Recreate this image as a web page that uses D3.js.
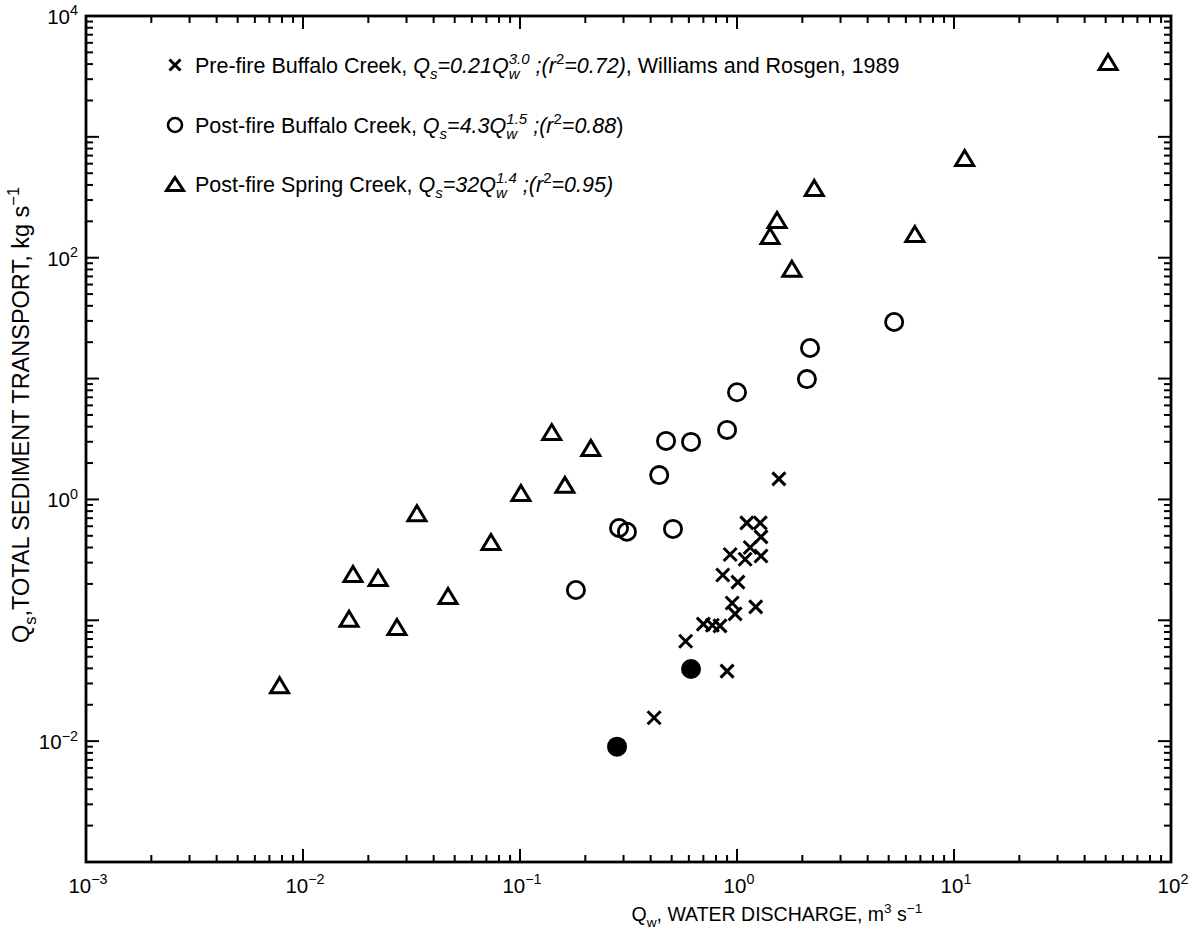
<!DOCTYPE html>
<html>
<head>
<meta charset="utf-8">
<script src="https://cdn.jsdelivr.net/npm/d3@7"></script>
<style>
  body { margin: 0; background: #fff; }
  text { font-family: "Liberation Sans", Arial, Helvetica, sans-serif; fill: #000; white-space: pre; }
</style>
</head>
<body>
<svg id="chart" width="1196" height="937"></svg>
<script>
// pre-fire Buffalo Creek (x)
var preFireQw = [1.56, 1.11, 1.28, 1.29, 1.15, 0.93, 1.09, 1.29, 0.86, 1.01, 0.95, 1.22, 0.98, 0.70, 0.77, 0.835, 0.58, 0.90, 0.415]
var preFireQs = [1.48, 0.64, 0.64, 0.49, 0.40, 0.35, 0.32, 0.34, 0.237, 0.207, 0.139, 0.129, 0.113, 0.093, 0.091, 0.090, 0.067, 0.038, 0.0156]

// post-fire Buffalo Creek (open circles)
var postBuffaloQw = [5.3, 2.17, 2.1, 1.0, 0.90, 0.614, 0.471, 0.438, 0.286, 0.311, 0.507, 0.181]
var postBuffaloQs = [29.4, 17.9, 9.9, 7.7, 3.76, 2.99, 3.05, 1.59, 0.58, 0.54, 0.57, 0.178]

// filled circles
var filledQw = [0.614, 0.28]
var filledQs = [0.0395, 0.009]

// post-fire Spring Creek (triangles)
var springQw = [51.3, 11.2, 6.6, 2.27, 1.53, 1.42, 1.79, 0.212, 0.140, 0.161, 0.101, 0.0335, 0.0735, 0.017, 0.0222, 0.0466, 0.0163, 0.0271, 0.0078]
var springQs = [4160, 668, 157, 378, 205, 151, 81, 2.67, 3.61, 1.32, 1.13, 0.77, 0.445, 0.242, 0.224, 0.159, 0.103, 0.088, 0.029]

var xTickExps = [-3, -2, -1, 0, 1, 2]
var yTickExps = [-2, 0, 2, 4]

var svg = d3.select("#chart")
var x = d3.scaleLog().domain([1e-3, 1e2]).range([86, 1171])
var y = d3.scaleLog().domain([1e-3, 1e4]).range([862, 16])

function zip(a, b) { return a.map(function (v, i) { return [v, b[i]] }) }

// write a line of mixed text (italic, sub, sup) into g, return its width
function rich(g, parts, size) {
    var cx = 0, stackW = 0
    parts.forEach(function (p) {
        var fs = p.s ? size * 0.7 : size
        var dy = p.s === 'sub' ? size * 0.3 : p.s === 'sup' ? -size * 0.42 : 0
        var t = g.append("text")
            .attr("x", cx + (p.dx || 0))
            .attr("y", dy)
            .style("font-size", fs + "px")
            .style("font-style", p.i ? "italic" : "normal")
            .text(p.t)
        var w = t.node().getComputedTextLength() + (p.dx || 0)
        if (p.stack) { stackW = w }
        else { cx += Math.max(w, stackW); stackW = 0 }
    })
    return cx
}

// ticks on all four sides
var minor = []
for (var d = -3; d < 4; d++) {
    for (var m = 1; m < 10; m++) minor.push({v: m * Math.pow(10, d), major: m === 1})
}
minor.push({v: 1e4, major: true})
var xt = minor.filter(function (t) { return t.v >= 1e-3 && t.v <= 1e2 })
var yt = minor.filter(function (t) { return t.v >= 1e-3 && t.v <= 1e4 })

var ticks = svg.append("g").attr("stroke", "#000").attr("stroke-width", 2)
xt.forEach(function (t) {
    var len = t.major ? 13 : 7
    ticks.append("line").attr("x1", x(t.v)).attr("x2", x(t.v)).attr("y1", 862).attr("y2", 862 - len)
    ticks.append("line").attr("x1", x(t.v)).attr("x2", x(t.v)).attr("y1", 16).attr("y2", 16 + len)
})
yt.forEach(function (t) {
    var len = t.major ? 13 : 7
    ticks.append("line").attr("y1", y(t.v)).attr("y2", y(t.v)).attr("x1", 86).attr("x2", 86 + len)
    ticks.append("line").attr("y1", y(t.v)).attr("y2", y(t.v)).attr("x1", 1171).attr("x2", 1171 - len)
})

svg.append("rect")
    .attr("x", 86).attr("y", 16)
    .attr("width", 1171 - 86).attr("height", 862 - 16)
    .attr("fill", "none").attr("stroke", "#000").attr("stroke-width", 2.8)

// tick labels
xTickExps.forEach(function (e) {
    var g = svg.append("g")
    var w = rich(g, [{t: "10"}, {t: String(e).replace("-", "\u2212"), s: 'sup'}], 20.5)
    g.attr("transform", "translate(" + (x(Math.pow(10, e)) - w / 2 + 2) + ",893)")
})
yTickExps.forEach(function (e) {
    var g = svg.append("g")
    var w = rich(g, [{t: "10"}, {t: String(e).replace("-", "\u2212"), s: 'sup'}], 20.5)
    g.attr("transform", "translate(" + (78 - w) + "," + (y(Math.pow(10, e)) + 8) + ")")
})

// axis titles
var xg = svg.append("g")
var xw = rich(xg, [{t: "Q"}, {t: "w", s: 'sub'}, {t: ", WATER DISCHARGE, m"}, {t: "3", s: 'sup'}, {t: " s"}, {t: "\u22121", s: 'sup'}], 19.5)
xg.attr("transform", "translate(" + (777 - xw / 2) + ",921)")

var yg = svg.append("g")
var yw = rich(yg, [{t: "Q"}, {t: "s", s: 'sub'}, {t: ",TOTAL SEDIMENT TRANSPORT, kg s"}, {t: "\u22121", s: 'sup'}], 23.5)
yg.attr("transform", "translate(29," + (415 + yw / 2) + ") rotate(-90)")

// markers
function cross(sel, r) {
    sel.append("path")
        .attr("d", "M" + (-r) + "," + (-r) + "L" + r + "," + r + "M" + (-r) + "," + r + "L" + r + "," + (-r))
        .attr("stroke", "#000").attr("stroke-width", 3).attr("fill", "none")
}
function tri(sel, hw, hh) {
    sel.append("path")
        .attr("d", "M0," + (-hh) + "L" + hw + "," + hh + "L" + (-hw) + "," + hh + "Z")
        .attr("stroke", "#000").attr("stroke-width", 3).attr("fill", "none")
}

var pts = svg.append("g")

pts.selectAll(".tri").data(zip(springQw, springQs)).enter().append("g")
    .attr("class", "tri")
    .attr("transform", function (d) { return "translate(" + x(d[0]) + "," + y(d[1]) + ")" })
    .call(tri, 9, 7.5)

pts.selectAll(".circ").data(zip(postBuffaloQw, postBuffaloQs)).enter().append("circle")
    .attr("class", "circ")
    .attr("cx", function (d) { return x(d[0]) })
    .attr("cy", function (d) { return y(d[1]) })
    .attr("r", 8.6)
    .attr("fill", "none").attr("stroke", "#000").attr("stroke-width", 2.8)

pts.selectAll(".dot").data(zip(filledQw, filledQs)).enter().append("circle")
    .attr("class", "dot")
    .attr("cx", function (d) { return x(d[0]) })
    .attr("cy", function (d) { return y(d[1]) })
    .attr("r", 10)
    .attr("fill", "#000")

pts.selectAll(".cross").data(zip(preFireQw, preFireQs)).enter().append("g")
    .attr("class", "cross")
    .attr("transform", function (d) { return "translate(" + x(d[0]) + "," + y(d[1]) + ")" })
    .call(cross, 6.5)

// legend
var legend = svg.append("g")
var l1 = legend.append("g").attr("transform", "translate(175,65)")
cross(l1, 5.5)
var l2 = legend.append("g").attr("transform", "translate(175,125)")
l2.append("circle").attr("r", 7).attr("fill", "none").attr("stroke", "#000").attr("stroke-width", 2.6)
var l3 = legend.append("g").attr("transform", "translate(175,184)")
tri(l3, 8.5, 6.5)

rich(legend.append("g").attr("transform", "translate(195,73)"), [
    {t: "Pre-fire Buffalo Creek, "}, {t: "Q", i: 1}, {t: "s", i: 1, s: 'sub'}, {t: "=0.21Q", i: 1},
    {t: "w", i: 1, s: 'sub', stack: 1}, {t: "3.0", i: 1, s: 'sup'}, {t: " ;(r", i: 1}, {t: "2", s: 'sup'},
    {t: "=0.72)", i: 1}, {t: ", Williams and Rosgen, 1989"}], 21.5)
rich(legend.append("g").attr("transform", "translate(195,133)"), [
    {t: "Post-fire Buffalo Creek, "}, {t: "Q", i: 1}, {t: "s", i: 1, s: 'sub'}, {t: "=4.3Q", i: 1},
    {t: "w", i: 1, s: 'sub', stack: 1}, {t: "1.5", i: 1, s: 'sup'}, {t: " ;(r", i: 1}, {t: "2", s: 'sup'},
    {t: "=0.88", i: 1}, {t: ")"}], 21.5)
rich(legend.append("g").attr("transform", "translate(195,192)"), [
    {t: "Post-fire Spring Creek, "}, {t: "Q", i: 1}, {t: "s", i: 1, s: 'sub'}, {t: "=32Q", i: 1},
    {t: "w", i: 1, s: 'sub', stack: 1}, {t: "1.4", i: 1, s: 'sup'}, {t: " ;(r", i: 1}, {t: "2", s: 'sup'},
    {t: "=0.95)", i: 1}], 21.5)
</script>
</body>
</html>
